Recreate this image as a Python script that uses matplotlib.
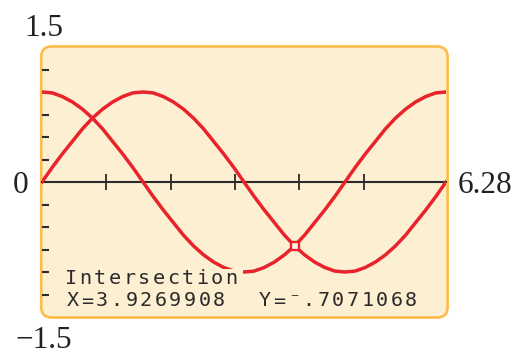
import numpy as np
import matplotlib
matplotlib.use('Agg')
import matplotlib.pyplot as plt
from matplotlib.patches import FancyBboxPatch, Rectangle

# calculator window: Xmin=0, Xmax=6.28, Ymin=-1.5, Ymax=1.5
x_vals = np.linspace(0, 6.28, 41)
y_sin = [0.00, 0.16, 0.31, 0.45, 0.59, 0.71, 0.81, 0.89, 0.95, 0.99, 1.00,
         0.99, 0.95, 0.89, 0.81, 0.71, 0.59, 0.45, 0.31, 0.16, 0.00,
         -0.16, -0.31, -0.45, -0.59, -0.71, -0.81, -0.89, -0.95, -0.99, -1.00,
         -0.99, -0.95, -0.89, -0.81, -0.71, -0.59, -0.45, -0.31, -0.16, 0.00]
y_cos = [1.00, 0.99, 0.95, 0.89, 0.81, 0.71, 0.59, 0.45, 0.31, 0.16, 0.00,
         -0.16, -0.31, -0.45, -0.59, -0.71, -0.81, -0.89, -0.95, -0.99, -1.00,
         -0.99, -0.95, -0.89, -0.81, -0.71, -0.59, -0.45, -0.31, -0.16, 0.00,
         0.16, 0.31, 0.45, 0.59, 0.71, 0.81, 0.89, 0.95, 0.99, 1.00]
x_ticks = [1, 2, 3, 4, 5]
y_ticks = [-1.25, -1.0, -0.75, -0.5, -0.25, 0.25, 0.5, 0.75, 1.0, 1.25]
inter_x = 3.9269908
inter_y = -0.7071068
x_min, x_max = 0, 6.28
y_min, y_max = -1.5, 1.5

screen_bg = '#fdefd2'
screen_edge = '#fdbb4a'
curve_red = '#e8232b'
lcd_text = '#2b2b2b'

W, H = 520, 354
fig = plt.figure(figsize=(W / 100, H / 100), dpi=100)

def px(x, y):
    return x / W, 1 - y / H

ax = fig.add_axes([42 / W, (H - 317) / H, (446 - 42) / W, (317 - 47) / H])
ax.patch.set_visible(False)
ax.set_xlim(x_min, x_max)
ax.set_ylim(y_min, y_max)

# rounded calculator screen
asp = (446 - 42) / (317 - 47)
box = FancyBboxPatch((-0.002, -0.002), 1.006, 1.004,
                     boxstyle='round,pad=0,rounding_size=0.026',
                     mutation_aspect=asp, transform=ax.transAxes,
                     facecolor=screen_bg, edgecolor=screen_edge,
                     linewidth=1.9, clip_on=False, zorder=0)
ax.add_patch(box)

ax.plot(x_vals, y_sin, color=curve_red, lw=2.5, zorder=3)
ax.plot(x_vals, y_cos, color=curve_red, lw=2.5, zorder=3)

# text area on the screen hides the curve below it
ax.add_patch(Rectangle((0.3, y_min + 0.1), 2.82, 0.435, facecolor=screen_bg,
                       edgecolor='none', zorder=4))

ax.plot([inter_x], [inter_y], marker='s', ms=6.3, mfc='#fff6ea',
        mec=curve_red, mew=1.7, zorder=6)

# axes like the calculator draws them
for s in ['top', 'right', 'left']:
    ax.spines[s].set_visible(False)
ax.spines['bottom'].set_position(('data', 0))
ax.spines['bottom'].set_color('#2a2a2a')
ax.spines['bottom'].set_linewidth(1.5)
ax.spines['bottom'].set_zorder(2)
ax.set_xticks(x_ticks)
ax.set_yticks(y_ticks)
ax.tick_params(axis='x', direction='inout', length=12, width=1.3,
               color='#2a2a2a', labelbottom=False)
ax.tick_params(axis='y', direction='in', length=5, width=1.5,
               color='#2a2a2a', labelleft=False)

# LCD style readout, fixed character pitch
def lcd(s, x0, yc, step=14.6):
    for i, ch in enumerate(s):
        fig.text(*px(x0 + i * step, yc), ch, ha='center', va='center',
                 fontsize=14.5, color=lcd_text,
                 family=['DejaVu Sans Mono', 'DejaVu Sans'], zorder=7)

lcd('Intersection', 71, 278)
lcd('X=3.9269908', 73, 301)
lcd('Y=\u207b.7071068', 265, 301)

# window values printed around the screen
serif = dict(family='Liberation Serif', fontsize=22.5, color='#222222',
             va='baseline')
fig.text(*px(44, 36), '1.5', ha='center', **serif)
fig.text(*px(44, 348), '\u22121.5', ha='center', **serif)
fig.text(*px(21, 193), '0', ha='center', **serif)
fig.text(*px(458, 193), '6.28', ha='left', **serif)

fig.savefig('out.png', dpi=100)
